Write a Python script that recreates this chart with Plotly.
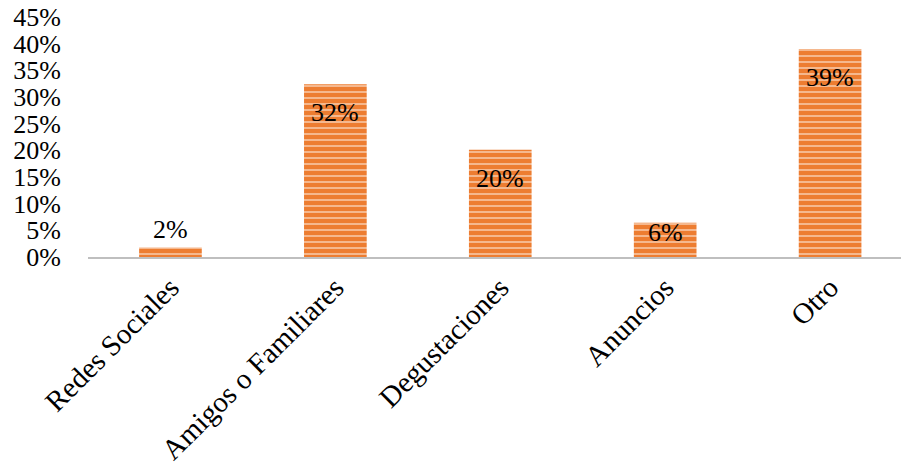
import plotly.graph_objects as go

categories = ["Redes Sociales", "Amigos o Familiares", "Degustaciones", "Anuncios", "Otro"]
values = [0.018, 0.324, 0.201, 0.064, 0.390]
tick_vals = [0, 0.05, 0.10, 0.15, 0.20, 0.25, 0.30, 0.35, 0.40, 0.45]
tick_text = ["0%", "5%", "10%", "15%", "20%", "25%", "30%", "35%", "40%", "45%"]

FONT = "Liberation Serif"
ORANGE = "#ED7D31"

fig = go.Figure(go.Bar(
    x=categories, y=values,
    width=0.38,
    marker=dict(color=ORANGE, line=dict(width=0),
                pattern=dict(shape="-", fgcolor="white", bgcolor=ORANGE,
                             size=6, solidity=0.3, fillmode="overlay")),
    hoverinfo="skip",
))

# data labels (Excel "inside end" style; outside for very short bars)
for c, v in zip(categories, values):
    txt = f"{v:.0%}"
    if v < 0.03:
        fig.add_annotation(x=c, y=v, text=txt, showarrow=False, yanchor="bottom",
                           yshift=1, font=dict(family=FONT, size=26, color="black"))
    elif v < 0.1:
        fig.add_annotation(x=c, y=v, text=txt, showarrow=False, yanchor="top",
                           yshift=7, font=dict(family=FONT, size=26, color="black"))
    else:
        fig.add_annotation(x=c, y=v, text=txt, showarrow=False, yanchor="top",
                           yshift=-12, font=dict(family=FONT, size=26, color="black"))

fig.update_layout(
    width=901, height=470,
    margin=dict(l=88, r=0, t=17, b=213),
    plot_bgcolor="white", paper_bgcolor="white",
    font=dict(family=FONT, size=26, color="black"),
    showlegend=False,
)
fig.update_xaxes(range=[-0.5, 4.43], showline=True, linecolor="#BFBFBF", linewidth=2,
                 tickangle=-45, ticks="", showgrid=False,
                 tickfont=dict(family=FONT, size=29, color="black"))
fig.update_yaxes(range=[0, 0.45], tickvals=tick_vals, ticktext=tick_text,
                 showgrid=False, zeroline=False, showline=False, ticks="",
                 ticklabelstandoff=26,
                 tickfont=dict(family=FONT, size=26, color="black"))

fig.write_html("out.html")
